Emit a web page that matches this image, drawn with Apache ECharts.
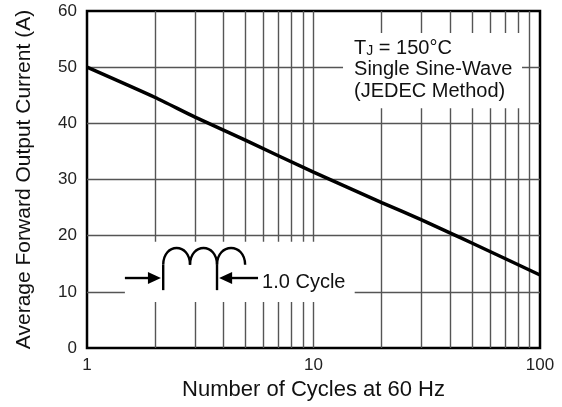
<!DOCTYPE html>
<html>
<head>
<meta charset="utf-8">
<script src="https://cdn.jsdelivr.net/npm/echarts@6/dist/echarts.min.js"></script>
<style>
html,body{margin:0;padding:0;background:#fff;}
#chart{width:562px;height:407px;}
</style>
</head>
<body>
<div id="chart"></div>
<script>
// ---- data ----
var cycles  = [1, 2, 3, 5, 10, 20, 30, 40, 50, 100];
var current = [50, 44.6, 41.1, 37.0, 31.3, 25.9, 22.8, 20.5, 18.7, 13.0];
var yTicks = [0, 10, 20, 30, 40, 50, 60];
var xGridMinor = [2, 3, 4, 5, 6, 7, 8, 9, 10, 20, 30, 40, 50, 60, 70, 80, 90];
var yGrid = [10, 20, 30, 40, 50];
var xTitle = 'Number of Cycles at 60 Hz';
var yTitle = 'Average Forward Output Current (A)';
var noteLines = ['Single Sine-Wave', '(JEDEC Method)'];
var cycleLabel = '1.0 Cycle';

var FONT = '"Liberation Sans", Arial, Helvetica, sans-serif';
var chart = echarts.init(document.getElementById('chart'), null, {renderer: 'canvas'});

var gridMarks = [];
xGridMinor.forEach(function (v) { gridMarks.push({xAxis: v}); });
yGrid.forEach(function (v) { gridMarks.push({yAxis: v}); });

chart.setOption({
  animation: false,
  backgroundColor: '#fff',
  grid: {left: 87, right: 22, top: 11, bottom: 59, show: true,
         borderColor: '#000', borderWidth: 2.5, backgroundColor: 'transparent'},
  xAxis: {
    type: 'log', logBase: 10, min: 1, max: 100,
    name: xTitle, nameLocation: 'middle', nameGap: 26,
    nameTextStyle: {fontFamily: FONT, fontSize: 22, color: '#111'},
    axisLine: {show: false}, axisTick: {show: false}, splitLine: {show: false},
    axisLabel: {fontFamily: FONT, fontSize: 17, color: '#222', margin: 9,
                formatter: function (v) { return String(Math.round(v)); }}
  },
  yAxis: {
    type: 'value', min: yTicks[0], max: yTicks[yTicks.length - 1], interval: 10,
    name: yTitle, nameLocation: 'middle', nameGap: 52,
    nameTextStyle: {fontFamily: FONT, fontSize: 21, color: '#111'},
    axisLine: {show: false}, axisTick: {show: false}, splitLine: {show: false},
    axisLabel: {fontFamily: FONT, fontSize: 17, color: '#222', margin: 10}
  },
  series: [
    {
      type: 'line', data: [], z: 1, silent: true,
      markLine: {silent: true, symbol: ['none', 'none'], label: {show: false},
                 lineStyle: {type: 'solid', color: '#555', width: 1.4},
                 emphasis: {disabled: true}, data: gridMarks}
    },
    {
      type: 'line', z: 10, smooth: 0.2, showSymbol: false, silent: true,
      lineStyle: {color: '#000', width: 3.5},
      data: cycles.map(function (c, i) { return [c, current[i]]; })
    }
  ]
});

function P(x, y) { return chart.convertToPixel({xAxisIndex: 0, yAxisIndex: 0}, [x, y]); }

var els = [];
// white boxes interrupting the grid
var t1 = P(13.5, 56.1), t2 = P(83.3, 42.7);
els.push({type: 'rect', z: 5, shape: {x: t1[0], y: t1[1], width: t2[0] - t1[0], height: t2[1] - t1[1]}, style: {fill: '#fff'}});
var c1 = P(1.47, 18.9), c2 = P(15.2, 8.2);
els.push({type: 'rect', z: 5, shape: {x: c1[0], y: c1[1], width: c2[0] - c1[0], height: c2[1] - c1[1]}, style: {fill: '#fff'}});

// note text
var tx = P(15.1, 53.4);
els.push({type: 'text', z: 7, x: tx[0], y: tx[1],
  style: {text: '{a|T}{s|J}{a| = 150°C}', verticalAlign: 'middle', align: 'left',
    rich: {a: {fontFamily: FONT, fontSize: 20, fill: '#111'},
           s: {fontFamily: FONT, fontSize: 14, fill: '#111', verticalAlign: 'bottom', padding: [6, 0, 0, 0]}}}});
var ty2 = P(15.1, 49.5), ty3 = P(15.1, 45.6);
els.push({type: 'text', z: 7, x: ty2[0], y: ty2[1], style: {text: noteLines[0], fontFamily: FONT, fontSize: 20, fill: '#111', verticalAlign: 'middle'}});
els.push({type: 'text', z: 7, x: ty3[0], y: ty3[1], style: {text: noteLines[1], fontFamily: FONT, fontSize: 20, fill: '#111', verticalAlign: 'middle'}});

// humps
var hx = [2.17, 2.85, 3.75, 4.99].map(function (v) { return P(v, 14.8)[0]; });
var hBase = P(2, 14.8)[1], hTop = P(2, 17.8)[1];
var hh = (hBase - hTop) * 4 / 3;
for (var i = 0; i < 3; i++) {
  els.push({type: 'bezierCurve', z: 7,
    shape: {x1: hx[i], y1: hBase, cpx1: hx[i], cpy1: hBase - hh, cpx2: hx[i + 1], cpy2: hBase - hh, x2: hx[i + 1], y2: hBase},
    style: {fill: null, stroke: '#000', lineWidth: 2.4}});
}

// ticks
var kTop = P(2, 14.8)[1], kBot = P(2, 10.3)[1];
[2.17, 3.75].forEach(function (v) {
  var px = P(v, 0)[0];
  els.push({type: 'line', z: 7, shape: {x1: px, y1: kTop, x2: px, y2: kBot}, style: {stroke: '#000', lineWidth: 2.4}});
});

// arrows
var ay = P(2, 12.46)[1];
var aL0 = P(1.47, 0)[0], aLtip = P(2.12, 0)[0];
els.push({type: 'line', z: 7, shape: {x1: aL0, y1: ay, x2: aLtip - 10, y2: ay}, style: {stroke: '#000', lineWidth: 2.4}});
els.push({type: 'polygon', z: 7, shape: {points: [[aLtip, ay], [aLtip - 13, ay - 6], [aLtip - 13, ay + 6]]}, style: {fill: '#000'}});
var aRtip = P(3.83, 0)[0], aR1 = P(5.69, 0)[0];
els.push({type: 'line', z: 7, shape: {x1: aRtip + 10, y1: ay, x2: aR1, y2: ay}, style: {stroke: '#000', lineWidth: 2.4}});
els.push({type: 'polygon', z: 7, shape: {points: [[aRtip, ay], [aRtip + 13, ay - 6], [aRtip + 13, ay + 6]]}, style: {fill: '#000'}});
var ct = P(5.93, 11.75);
els.push({type: 'text', z: 7, x: ct[0], y: ct[1], style: {text: cycleLabel, fontFamily: FONT, fontSize: 20, fill: '#111', verticalAlign: 'middle'}});

chart.setOption({graphic: {elements: els}});
</script>
</body>
</html>
